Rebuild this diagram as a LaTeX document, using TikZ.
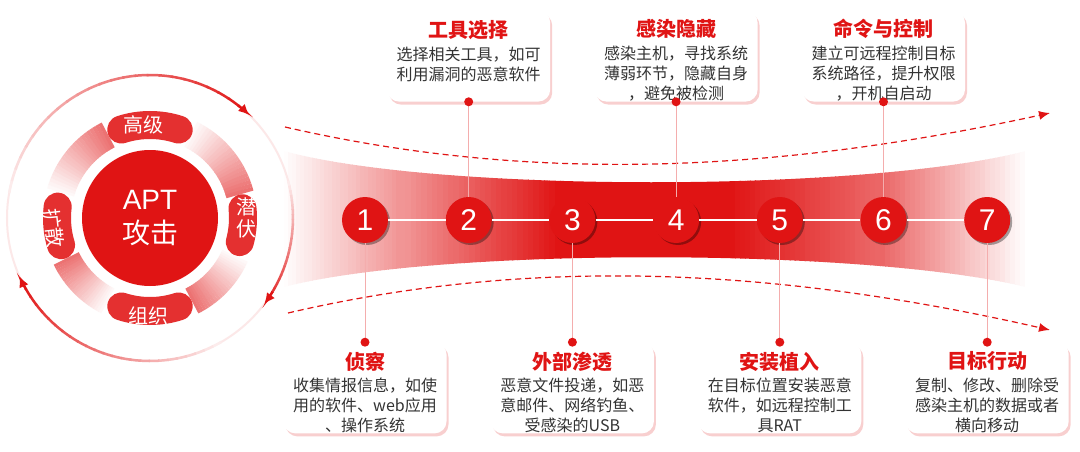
\documentclass[tikz,border=0pt]{standalone}
\usepackage{fontspec}
\setmainfont{Liberation Sans}
\newfontfamily\cjk{Noto Sans CJK SC}
\usetikzlibrary{positioning, arrows.meta, shadows}
\definecolor{APTred}{HTML}{E01414}
\definecolor{Ink}{HTML}{333333}
\tikzset{
    core/.style={circle, fill=APTred, text=white, minimum size=136pt, inner sep=0pt, align=center, font=\fontsize{28}{34}\selectfont},
    ringlabel/.style={text=white, inner sep=0pt, align=center, font=\cjk\fontsize{20}{22}\selectfont},
    stepdot/.style={circle, fill=APTred, text=white, minimum size=46pt, inner sep=0pt, font=\fontsize{30}{30}\selectfont, drop shadow={shadow xshift=2pt, shadow yshift=-2pt, fill=black, opacity=0.35}},
    infobox/.style={rectangle, rounded corners=12pt, fill=white, text=Ink, text width=155pt, minimum width=163pt, minimum height=91pt, inner xsep=4pt, inner ysep=0pt, align=center, font=\cjk\fontsize{16}{20}\selectfont, drop shadow={shadow xshift=2pt, shadow yshift=-3pt, fill=APTred!40, opacity=0.5}},
    link/.style={white, line width=2.5pt},
    stem/.style={APTred!35, line width=1pt},
    flow/.style={APTred, line width=1.2pt, dash pattern=on 6pt off 4pt, -{Latex[length=11pt, width=9pt]}},
    ringtip/.style={APTred, line width=2.5pt, -{Latex[length=11pt, width=10pt]}},
}
\newcommand{\steptitle}[1]{\rule{0pt}{26pt}{\bfseries\fontsize{20}{20}\selectfont\color{APTred}#1}\\[2.5pt]}
% arc from #1 to #2 (deg), radius #3, width #4, colour APTred!#5 -> APTred!#6
\newcommand{\ringramp}[6]{%
  \foreach \k [evaluate=\k as \pct using {int(#5+(#6-#5)*\k/23)},
               evaluate=\k as \ang using {#1+(#2-#1)*\k/24}] in {0,...,23}
    \draw[APTred!\pct, line width=#4] (apt.center) ++(\ang:#3) arc[start angle=\ang, delta angle={(#2-#1)/24*1.15}, radius=#3];
}
% strips from x=#1 to x=#2, colour APTred!#3 -> APTred!#4
\newcommand{\bandramp}[4]{%
  \foreach \k [evaluate=\k as \pct using {int(#3+(#4-#3)*\k/29)},
               evaluate=\k as \xx using {#1+(#2-#1)*\k/30}] in {0,...,29}
    \fill[APTred!\pct] (\xx,150) rectangle ++({(#2-#1)/30+0.6},160);
}

\begin{document}
\begin{tikzpicture}[x=1pt, y=1pt]
    \path[use as bounding box, fill=white] (0,0) rectangle (1080,451);

    % band
    \begin{scope}
        \clip (280,301) .. controls (430,258) and (870,258) .. (1030,301)
            -- (1030,163) .. controls (870,204) and (430,204) .. (280,163) -- cycle;
        \bandramp{280}{400}{0}{45}
        \bandramp{400}{560}{45}{100}
        \fill[APTred] (560,150) rectangle (731,310);
        \bandramp{730}{880}{100}{65}
        \bandramp{880}{1030}{65}{0}
    \end{scope}

    % flows
    \coordinate (upin) at (285,324);
    \coordinate (upout) at (1050,338);
    \coordinate (lowin) at (288,138);
    \coordinate (lowout) at (1050,121);
    \draw[flow] (upin) .. controls (520,270) and (760,275) .. (upout);
    \draw[flow] (lowin) .. controls (520,192) and (760,187) .. (lowout);

    % APT circle
    \node[core] (apt) at (150,233) {APT\\{\cjk 攻击}};

    % ring
    \ringramp{64}{15}{93pt}{28pt}{3}{60}
    \ringramp{-24}{-63}{93pt}{28pt}{3}{60}
    \ringramp{243}{206}{93pt}{28pt}{3}{60}
    \ringramp{164}{117}{93pt}{28pt}{3}{60}
    \draw[APTred!88, line width=28pt, line cap=round] (apt.center) ++(108:93pt) arc[start angle=108, end angle=72, radius=93pt];
    \draw[APTred!88, line width=28pt, line cap=round] (apt.center) ++(6:93pt) arc[start angle=6, end angle=-15, radius=93pt];
    \draw[APTred!88, line width=28pt, line cap=round] (apt.center) ++(288:93pt) arc[start angle=288, end angle=252, radius=93pt];
    \draw[APTred!88, line width=28pt, line cap=round] (apt.center) ++(197:93pt) arc[start angle=197, end angle=173, radius=93pt];
    \path (apt.center) ++(94:93pt) node[ringlabel] (gaoji) {高级};
    \path (apt.center) ++(0:96pt) node[ringlabel] (qianfu) {潜\\伏};
    \path (apt.center) ++(269:98pt) node[ringlabel] (zuzhi) {组织};
    \path (apt.center) ++(186:97pt) node[ringlabel, rotate=-84] (kuosan) {扩散};

    % outer arrows
    \draw[APTred!10, line width=2pt] (apt.center) circle (143pt);
    \ringramp{170}{52}{143pt}{2.5pt}{8}{95}
    \draw[ringtip] (apt.center) ++(52:143pt) arc[start angle=52, end angle=46, radius=143pt];
    \ringramp{15}{-31}{143pt}{2.5pt}{8}{85}
    \draw[ringtip] (apt.center) ++(-31:143pt) arc[start angle=-31, end angle=-37, radius=143pt];
    \ringramp{300}{210}{143pt}{2.5pt}{8}{95}
    \draw[ringtip] (apt.center) ++(210:143pt) arc[start angle=210, end angle=204, radius=143pt];

    % steps
    \node[stepdot] (s1) at (365,231) {1};
    \node[stepdot, right=57.3pt of s1] (s2) {2};
    \node[stepdot, right=57.3pt of s2] (s3) {3};
    \node[stepdot, right=57.3pt of s3] (s4) {4};
    \node[stepdot, right=57.3pt of s4] (s5) {5};
    \node[stepdot, right=57.3pt of s5] (s6) {6};
    \node[stepdot, right=57.3pt of s6] (s7) {7};
    \foreach \a/\b in {1/2, 2/3, 3/4, 4/5, 5/6, 6/7}
        \draw[link] (s\a) -- (s\b);

    % boxes
    \node[infobox, below=99pt of s1] (b1) {\steptitle{侦察}收集情报信息，如使\\用的软件、web应用\\、操作系统};
    \node[infobox, above=95pt of s2] (b2) {\steptitle{工具选择}选择相关工具，如可\\利用漏洞的恶意软件\\\mbox{}};
    \node[infobox, below=99pt of s3] (b3) {\steptitle{外部渗透}恶意文件投递，如恶\\意邮件、网络钓鱼、\\受感染的USB};
    \node[infobox, above=95pt of s4] (b4) {\steptitle{感染隐藏}感染主机，寻找系统\\薄弱环节，隐藏自身\\，避免被检测};
    \node[infobox, below=99pt of s5] (b5) {\steptitle{安装植入}在目标位置安装恶意\\软件，如远程控制工\\具RAT};
    \node[infobox, above=95pt of s6] (b6) {\steptitle{命令与控制}建立可远程控制目标\\系统路径，提升权限\\，开机自启动};
    \node[infobox, below=99pt of s7] (b7) {\steptitle{目标行动}复制、修改、删除受\\感染主机的数据或者\\横向移动};

    % stems
    \foreach \i in {2,4,6} {
        \draw[stem] (b\i.south) -- (s\i.north);
        \fill[APTred] (b\i.south) circle (4.5pt);
    }
    \foreach \i in {1,3,5,7} {
        \draw[stem] (s\i.south) -- (b\i.north);
        \fill[APTred] (b\i.north) circle (4.5pt);
    }
\end{tikzpicture}
\end{document}
